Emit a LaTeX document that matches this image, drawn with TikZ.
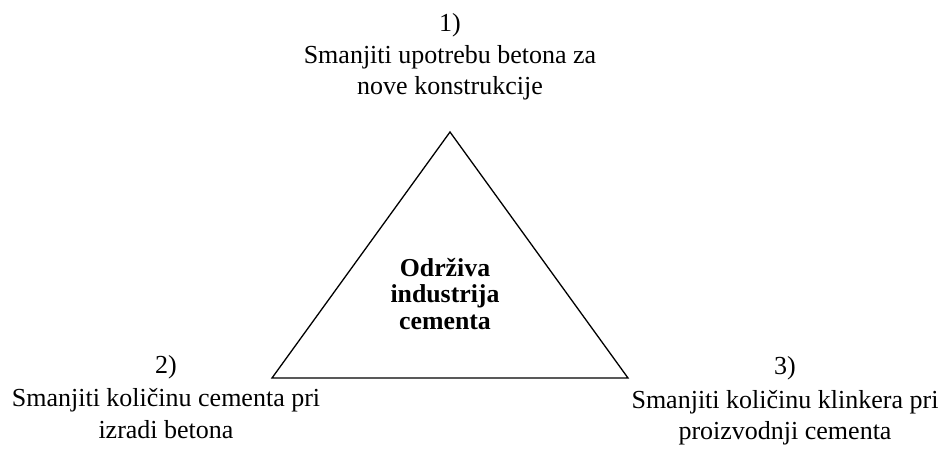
\documentclass[tikz,border=0pt]{standalone}
\usepackage{fontspec}
\setmainfont{Liberation Serif}
\tikzset{
    goal/.style={align=center, inner sep=0pt, font=\fontsize{13}{15.8}\selectfont},
    core/.style={align=center, inner sep=0pt, font=\fontsize{12.9}{13.3}\selectfont\bfseries}
}

\begin{document}
\begin{tikzpicture}[x=0.5pt,y=-0.5pt]
\useasboundingbox (0,0) rectangle (943,449);

\coordinate (apex) at (450,132);
\coordinate (lcorner) at (272,378);
\coordinate (rcorner) at (628,378);

\draw[line width=0.65pt] (apex) -- (lcorner) -- (rcorner) -- cycle;

\node[core] (center) at (445,294) {Održiva\\industrija\\cementa};

\node[goal] (g1) at (450,57) {1)\\Smanjiti upotrebu betona za\\nove konstrukcije};
\node[goal] (g2) at (166,397) {2)\\[1pt]Smanjiti količinu cementa pri\\izradi betona};
\node[goal] (g3) at (785,401) {3)\\[1pt]Smanjiti količinu klinkera pri\\proizvodnji cementa};
\end{tikzpicture}
\end{document}
